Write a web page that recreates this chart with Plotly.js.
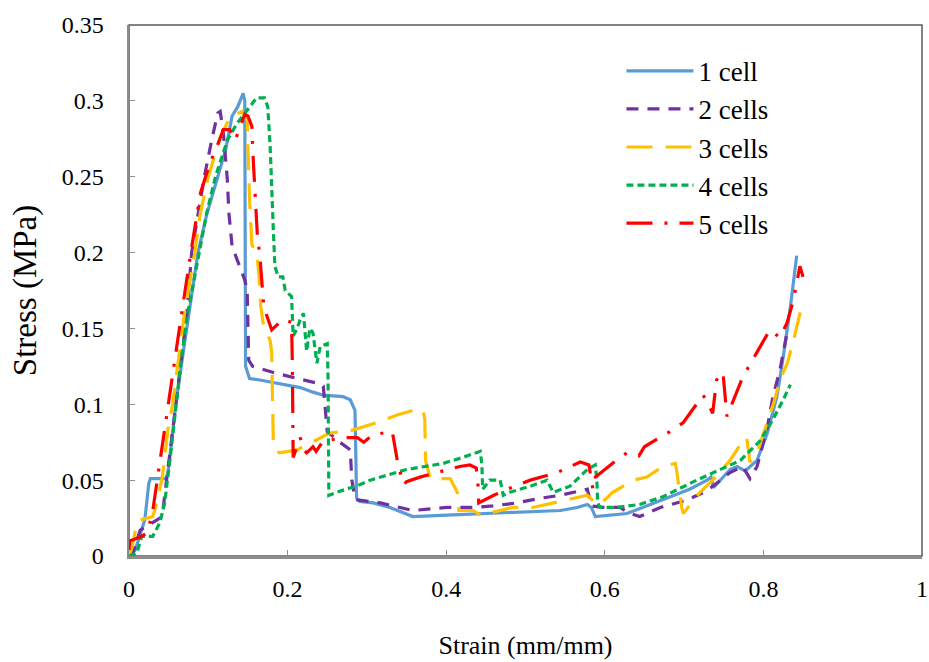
<!DOCTYPE html>
<html>
<head>
<meta charset="utf-8">
<script src="https://cdn.plot.ly/plotly-3.0.1.min.js"></script>
<style>
  html, body { margin: 0; padding: 0; background: #ffffff; }
  #chart { width: 929px; height: 662px; }
</style>
</head>
<body>
<div id="chart"></div>
<script>
// ---- Data (strain mm/mm, stress MPa) ----
const seriesNames = ["1 cell", "2 cells", "3 cells", "4 cells", "5 cells"];

const strain1 = [0,0.008,0.020,0.025,0.027,0.047,0.050,0.059,0.070,0.080,0.087,0.098,0.112,0.122,0.130,0.137,0.144,0.146,0.147,0.152,0.165,0.216,0.232,0.245,0.270,0.279,0.285,0.287,0.291,0.308,0.329,0.358,0.401,0.443,0.502,0.544,0.565,0.578,0.583,0.588,0.628,0.673,0.707,0.729,0.734,0.737,0.758,0.767,0.777,0.792,0.805,0.817,0.825,0.834,0.842];
const stress1 = [0,0.004,0.024,0.048,0.051,0.051,0.058,0.100,0.140,0.175,0.200,0.225,0.250,0.268,0.290,0.296,0.305,0.300,0.125,0.117,0.116,0.111,0.108,0.106,0.105,0.103,0.096,0.038,0.036,0.035,0.032,0.026,0.027,0.028,0.029,0.030,0.032,0.034,0.032,0.026,0.028,0.037,0.044,0.050,0.052,0.045,0.057,0.059,0.056,0.063,0.081,0.105,0.131,0.164,0.198];

const strain2 = [0,0.005,0.014,0.030,0.042,0.045,0.050,0.058,0.066,0.073,0.079,0.087,0.095,0.105,0.112,0.115,0.119,0.124,0.126,0.130,0.140,0.146,0.149,0.150,0.151,0.156,0.182,0.212,0.237,0.245,0.250,0.266,0.279,0.281,0.285,0.288,0.317,0.358,0.401,0.434,0.459,0.489,0.518,0.544,0.569,0.578,0.583,0.598,0.619,0.632,0.644,0.670,0.704,0.729,0.758,0.774,0.783,0.792,0.805,0.812,0.821,0.829];
const stress2 = [0,0.002,0.017,0.022,0.026,0.040,0.060,0.095,0.130,0.160,0.200,0.226,0.250,0.276,0.292,0.293,0.279,0.248,0.226,0.204,0.191,0.182,0.175,0.150,0.129,0.125,0.121,0.117,0.114,0.112,0.082,0.075,0.070,0.050,0.038,0.037,0.035,0.030,0.032,0.032,0.033,0.035,0.038,0.040,0.043,0.044,0.033,0.032,0.032,0.028,0.026,0.032,0.037,0.043,0.055,0.059,0.051,0.059,0.085,0.105,0.123,0.145];

const strain3 = [0,0.004,0.010,0.016,0.030,0.035,0.042,0.049,0.055,0.062,0.070,0.083,0.090,0.100,0.115,0.127,0.142,0.149,0.150,0.152,0.155,0.161,0.164,0.166,0.169,0.178,0.180,0.181,0.182,0.184,0.190,0.212,0.241,0.253,0.282,0.313,0.338,0.358,0.371,0.373,0.374,0.380,0.405,0.414,0.416,0.434,0.443,0.459,0.484,0.509,0.544,0.565,0.578,0.588,0.594,0.610,0.636,0.653,0.673,0.689,0.691,0.697,0.699,0.720,0.736,0.758,0.774,0.779,0.781,0.783,0.792,0.805,0.813,0.821,0.830,0.838,0.848];
const stress3 = [0,0.006,0.022,0.024,0.026,0.035,0.052,0.083,0.100,0.130,0.160,0.200,0.226,0.250,0.276,0.289,0.293,0.287,0.270,0.235,0.205,0.200,0.185,0.165,0.154,0.142,0.134,0.100,0.075,0.070,0.068,0.070,0.078,0.081,0.083,0.088,0.093,0.096,0.096,0.090,0.063,0.051,0.051,0.042,0.030,0.030,0.027,0.029,0.032,0.032,0.036,0.038,0.040,0.035,0.034,0.042,0.050,0.052,0.059,0.061,0.055,0.032,0.028,0.042,0.050,0.063,0.076,0.078,0.068,0.062,0.068,0.088,0.101,0.116,0.127,0.142,0.164];

const strain4 = [0,0.010,0.016,0.030,0.039,0.045,0.052,0.059,0.066,0.074,0.089,0.098,0.109,0.124,0.136,0.149,0.161,0.171,0.175,0.178,0.181,0.182,0.184,0.188,0.194,0.197,0.205,0.207,0.212,0.216,0.220,0.224,0.228,0.232,0.237,0.241,0.250,0.251,0.252,0.262,0.291,0.304,0.350,0.396,0.421,0.443,0.445,0.446,0.455,0.468,0.472,0.480,0.506,0.527,0.535,0.556,0.578,0.588,0.590,0.591,0.594,0.615,0.644,0.673,0.716,0.745,0.771,0.796,0.812,0.825,0.834];
const stress4 = [0,0.002,0.013,0.013,0.022,0.035,0.065,0.100,0.130,0.160,0.200,0.226,0.250,0.274,0.285,0.294,0.302,0.302,0.296,0.270,0.237,0.215,0.191,0.184,0.184,0.175,0.171,0.145,0.150,0.156,0.160,0.135,0.150,0.147,0.127,0.138,0.140,0.118,0.040,0.042,0.047,0.050,0.057,0.061,0.065,0.069,0.060,0.044,0.050,0.050,0.040,0.042,0.046,0.050,0.042,0.046,0.057,0.060,0.050,0.035,0.032,0.032,0.034,0.039,0.050,0.057,0.063,0.076,0.090,0.103,0.113];

const strain5 = [0,0.001,0.012,0.023,0.030,0.039,0.043,0.050,0.056,0.067,0.074,0.078,0.090,0.102,0.111,0.119,0.127,0.134,0.140,0.146,0.150,0.155,0.156,0.158,0.160,0.162,0.165,0.168,0.170,0.180,0.194,0.205,0.206,0.207,0.216,0.220,0.224,0.232,0.236,0.245,0.275,0.288,0.296,0.308,0.332,0.335,0.339,0.346,0.350,0.367,0.401,0.417,0.430,0.438,0.440,0.441,0.460,0.477,0.506,0.540,0.569,0.580,0.585,0.588,0.593,0.619,0.628,0.643,0.650,0.682,0.699,0.724,0.730,0.736,0.741,0.749,0.754,0.774,0.796,0.808,0.821,0.830,0.838,0.844,0.846,0.850];
const stress5 = [0.004,0.010,0.012,0.015,0.030,0.063,0.078,0.100,0.123,0.162,0.187,0.200,0.239,0.259,0.270,0.281,0.281,0.274,0.283,0.291,0.290,0.283,0.268,0.248,0.230,0.210,0.198,0.180,0.164,0.149,0.156,0.154,0.126,0.065,0.078,0.070,0.068,0.072,0.069,0.076,0.078,0.078,0.075,0.080,0.082,0.073,0.061,0.047,0.049,0.052,0.057,0.059,0.060,0.058,0.048,0.035,0.040,0.044,0.050,0.055,0.062,0.060,0.044,0.052,0.054,0.065,0.068,0.066,0.072,0.082,0.088,0.106,0.101,0.094,0.116,0.121,0.092,0.118,0.138,0.149,0.144,0.154,0.169,0.187,0.191,0.184];

const xTickVals = [0, 0.2, 0.4, 0.6, 0.8, 1];
const xTickText = ["0", "0.2", "0.4", "0.6", "0.8", "1"];
const yTickVals = [0, 0.05, 0.1, 0.15, 0.2, 0.25, 0.3, 0.35];
const yTickText = ["0", "0.05", "0.1", "0.15", "0.2", "0.25", "0.3", "0.35"];

// ---- Styles ----
const colors = ["#5B9BD5", "#7030A0", "#FFC000", "#00B050", "#FF0000"];
const dashes = ["solid", "12px,9px", "26px,13px", "7px,4px", "26px,12px,3px,12px"];
const widths = [3.2, 3.2, 3.2, 3.2, 3.2];

const xs = [strain1, strain2, strain3, strain4, strain5];
const ys = [stress1, stress2, stress3, stress4, stress5];

const traces = seriesNames.map((name, i) => ({
  type: "scatter",
  mode: "lines",
  name: name,
  x: xs[i],
  y: ys[i],
  legendgroup: "g" + i,
  line: { color: colors[i], width: widths[i], dash: dashes[i] }
}));

const serif = "'Liberation Serif', 'Times New Roman', serif";

const layout = {
  width: 929,
  height: 662,
  margin: { l: 129, r: 7, t: 25, b: 106 },
  paper_bgcolor: "#ffffff",
  plot_bgcolor: "#ffffff",
  font: { family: serif, color: "#000000", size: 24 },
  showlegend: true,
  legend: {
    x: 0.621, y: 0.959, xanchor: "left", yanchor: "top",
    xref: "paper", yref: "paper",
    font: { family: serif, size: 27, color: "#000000" },
    bgcolor: "rgba(0,0,0,0)",
    borderwidth: 0,
    itemwidth: 67,
    tracegroupgap: 3,
    traceorder: "normal"
  },
  xaxis: {
    range: [0, 1],
    tickvals: xTickVals,
    ticktext: xTickText,
    ticks: "inside",
    ticklen: 6,
    tickwidth: 1,
    tickcolor: "#8c8c8c",
    showline: true,
    linecolor: "#8c8c8c",
    linewidth: 2.5,
    showgrid: false,
    zeroline: false,
    ticklabelstandoff: 10,
    tickfont: { family: serif, size: 24, color: "#000000" },
    title: { text: "Strain (mm/mm)", font: { family: serif, size: 26, color: "#000000" }, standoff: 35 },
    automargin: false,
    fixedrange: true
  },
  yaxis: {
    range: [0, 0.35],
    tickvals: yTickVals,
    ticktext: yTickText,
    ticks: "inside",
    ticklen: 6,
    tickwidth: 1,
    tickcolor: "#8c8c8c",
    showline: true,
    linecolor: "#8c8c8c",
    linewidth: 2.5,
    showgrid: false,
    zeroline: false,
    ticklabelstandoff: 18,
    tickfont: { family: serif, size: 24, color: "#000000" },
    title: { text: "Stress (MPa)", font: { family: serif, size: 33, color: "#000000" }, standoff: 15 },
    automargin: false,
    fixedrange: true
  },
  shapes: [{
    type: "rect", xref: "paper", yref: "paper",
    x0: 0, x1: 1, y0: 0, y1: 1,
    line: { color: "#595959", width: 1.5 },
    fillcolor: "rgba(0,0,0,0)",
    layer: "below"
  }]
};

Plotly.newPlot("chart", traces, layout, { staticPlot: true, displayModeBar: false });
</script>
</body>
</html>
